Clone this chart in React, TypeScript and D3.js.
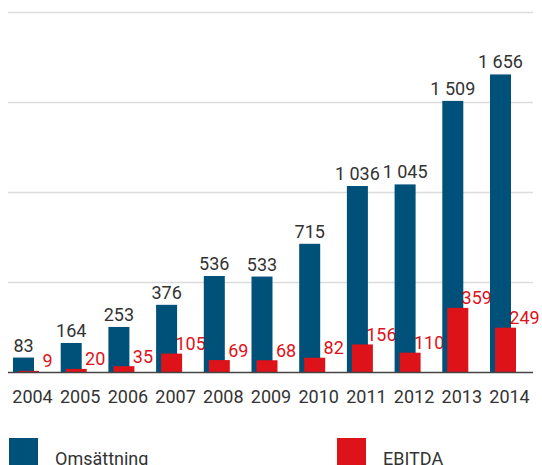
import React from 'react';
import * as d3 from 'd3';

// data
const years = ['2004', '2005', '2006', '2007', '2008', '2009', '2010', '2011', '2012', '2013', '2014'];
const omsattning = [83, 164, 253, 376, 536, 533, 715, 1036, 1045, 1509, 1656];
const ebitda = [9, 20, 35, 105, 69, 68, 82, 156, 110, 359, 249];
const gridTicks = [500, 1000, 1500, 2000];

const BLUE = '#00517a';
const RED = '#de1219';
const TEXT = '#333333';
const FONT = 'Roboto, sans-serif';

const W = 542;
const H = 465;

const fmt = d3.formatLocale({ decimal: ',', thousands: ' ', grouping: [3], currency: ['', ' kr'] }).format(',d');

export default function App() {
  const x = d3.scaleBand<string>().domain(years).range([13, 13 + 11 * 47.7]).padding(0);
  const y = d3.scaleLinear().domain([0, 2000]).range([372.5, 12.5]);
  const barW = 21;
  const redOff = 5;

  return (
    <div style={{ position: 'absolute', left: 0, top: 0 }}>
      <svg width={W} height={H} style={{ display: 'block' }} fontFamily={FONT}>
        {/* grid */}
        {gridTicks.map(t => (
          <line key={t} x1={8} x2={533} y1={y(t)} y2={y(t)} stroke="#dcdcdc" strokeWidth={1.5} />
        ))}

        {/* bars */}
        {years.map((yr, i) => {
          const bx = x(yr)!;
          return (
            <g key={yr}>
              <rect x={bx} y={y(omsattning[i])} width={barW} height={y(0) - y(omsattning[i])} fill={BLUE} />
              <rect x={bx + redOff} y={y(ebitda[i])} width={barW} height={y(0) - y(ebitda[i])} fill={RED} />
              <text x={bx + barW / 2} y={y(omsattning[i]) - 6} textAnchor="middle" fontSize={18} fill={TEXT}>
                {fmt(omsattning[i])}
              </text>
              <text x={bx + redOff + barW / 2 + 19} y={y(ebitda[i]) - 3.5} textAnchor="middle" fontSize={18} fill={RED}>
                {fmt(ebitda[i])}
              </text>
              <text x={bx + 19.5} y={403} textAnchor="middle" fontSize={18} fill={TEXT}>
                {yr}
              </text>
            </g>
          );
        })}

        {/* baseline */}
        <line x1={8} x2={533} y1={y(0)} y2={y(0)} stroke="#444" strokeWidth={1.5} />

        {/* legend */}
        <rect x={9} y={438} width={29} height={30} fill={BLUE} />
        <text x={55} y={465} fontSize={18} fill={TEXT}>Omsättning</text>
        <rect x={337} y={438} width={29} height={30} fill={RED} />
        <text x={383} y={465} fontSize={18} fill={TEXT}>EBITDA</text>
      </svg>
    </div>
  );
}
